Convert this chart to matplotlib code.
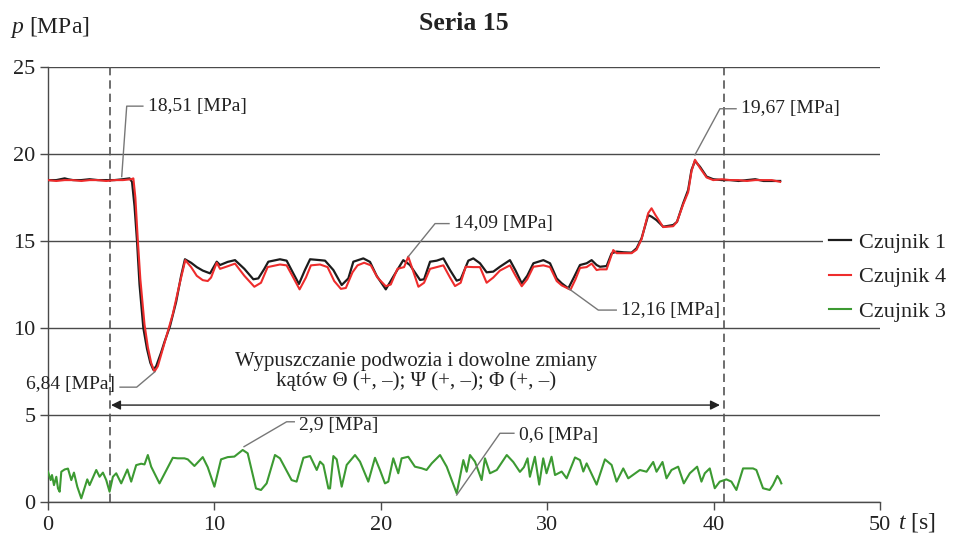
import matplotlib
matplotlib.use("Agg")
import matplotlib.pyplot as plt

plt.rcParams['font.family'] = ['Liberation Serif', 'DejaVu Serif']
plt.rcParams['mathtext.fontset'] = 'custom'
plt.rcParams['mathtext.rm'] = 'Liberation Serif'
plt.rcParams['mathtext.it'] = 'Liberation Serif:italic'

# ---------------- data ----------------
t_c1 = [0.0, 0.5, 1.0, 1.2, 1.5, 2.0, 2.5, 3.0, 3.5, 4.0, 4.5, 4.9, 5.05, 5.2, 5.35, 5.5,
        5.73, 5.95, 6.15, 6.33, 6.5, 6.8, 7.0, 7.33, 7.7, 8.0, 8.23, 8.6, 8.94, 9.3, 9.74,
        10.14, 10.34, 10.8, 11.24, 11.8, 12.34, 12.64, 13.0, 13.24, 13.94, 14.34, 14.74,
        15.08, 15.44, 15.75, 16.35, 16.65, 17.15, 17.65, 18.05, 18.35, 18.95, 19.35, 19.75,
        20.3, 20.75, 21.35, 21.75, 22.36, 22.6, 22.96, 23.36, 23.76, 24.16, 24.56, 24.8,
        25.26, 25.56, 25.96, 26.36, 26.76, 27.16, 27.76, 28.1, 28.47, 28.8, 29.17, 29.77,
        30.17, 30.57, 30.87, 31.27, 31.6, 31.97, 32.37, 32.67, 32.97, 33.17, 33.57, 33.87,
        34.17, 34.6, 35.07, 35.37, 35.67, 36.07, 36.27, 36.57, 36.97, 37.57, 37.8, 38.17,
        38.47, 38.67, 38.88, 39.18, 39.58, 39.98, 40.5, 41.0, 41.5, 42.0, 42.5, 43.0, 43.5, 44.0]
p_c1 = [18.5, 18.5, 18.6, 18.55, 18.5, 18.5, 18.55, 18.5, 18.5, 18.5, 18.55, 18.6, 18.4, 17.0, 15.0, 12.5,
        10.0, 8.8, 8.0, 7.6, 7.8, 8.6, 9.2, 10.1, 11.5, 13.0, 13.95, 13.75, 13.5, 13.3, 13.14,
        13.81, 13.62, 13.8, 13.9, 13.4, 12.8, 12.85, 13.4, 13.81, 13.95, 13.87, 13.14,
        12.53, 13.33, 13.95, 13.9, 13.87, 13.33, 12.47, 12.85, 13.81, 14.0, 13.8, 13.0,
        12.22, 12.95, 13.9, 13.62, 12.76, 12.8, 13.81, 13.87, 14.0, 13.33, 12.72, 12.8,
        13.87, 14.0, 13.72, 13.2, 13.24, 13.52, 13.9, 13.3, 12.57, 13.0, 13.72, 13.9,
        13.72, 12.85, 12.57, 12.28, 12.9, 13.62, 13.72, 13.9, 13.62, 13.52, 13.56, 14.29,
        14.39, 14.35, 14.33, 14.58, 15.15, 16.49, 16.4, 16.2, 15.82, 15.92, 16.1, 17.17,
        17.93, 19.08, 19.6, 19.27, 18.7, 18.55, 18.5, 18.5, 18.45, 18.5, 18.55, 18.45, 18.45, 18.45]

t_c4 = [0.0, 0.5, 1.0, 1.5, 2.0, 2.5, 3.0, 3.5, 4.0, 4.5, 5.0, 5.13, 5.25, 5.4, 5.55, 5.8,
        6.0, 6.2, 6.4, 6.6, 6.9, 7.2, 7.5, 7.9, 8.25, 8.6, 8.94, 9.3, 9.6, 9.8, 10.14, 10.34,
        10.8, 11.24, 11.8, 12.4, 12.8, 13.2, 13.94, 14.34, 14.74, 15.12, 15.5, 15.8, 16.35,
        16.8, 17.2, 17.6, 17.9, 18.3, 18.6, 19.0, 19.4, 19.8, 20.3, 20.6, 21.0, 21.4, 21.65,
        21.9, 22.26, 22.6, 22.96, 23.36, 23.76, 24.16, 24.46, 24.8, 25.1, 25.56, 25.96,
        26.36, 26.76, 27.16, 27.76, 28.1, 28.47, 28.8, 29.17, 29.77, 30.17, 30.57, 30.87,
        31.4, 31.7, 31.97, 32.37, 32.67, 32.97, 33.17, 33.57, 33.97, 34.17, 34.6, 35.07,
        35.37, 35.67, 36.07, 36.27, 36.5, 36.97, 37.57, 37.8, 38.17, 38.47, 38.67, 38.88,
        39.18, 39.58, 39.98, 40.5, 41.0, 41.5, 42.0, 42.5, 43.0, 43.5, 44.0]
p_c4 = [18.5, 18.45, 18.5, 18.5, 18.45, 18.5, 18.5, 18.45, 18.5, 18.5, 18.55, 18.6, 17.5, 15.0, 12.8, 10.2,
        8.9, 8.0, 7.5, 7.8, 8.8, 9.8, 10.8, 12.5, 13.9, 13.5, 13.0, 12.75, 12.7, 12.9, 13.75, 13.4,
        13.55, 13.7, 13.0, 12.37, 12.6, 13.5, 13.65, 13.6, 12.9, 12.22, 12.9, 13.6, 13.65,
        13.5, 12.7, 12.25, 12.3, 13.2, 13.6, 13.75, 13.6, 12.9, 12.4, 12.5, 13.4, 13.5, 14.1,
        13.4, 12.37, 12.6, 13.4, 13.5, 13.6, 12.9, 12.41, 12.6, 13.52, 13.5, 13.5,
        12.6, 12.9, 13.3, 13.6, 13.0, 12.4, 12.8, 13.52, 13.6, 13.5, 12.7, 12.45,
        12.2, 12.8, 13.45, 13.5, 13.7, 13.33, 13.37, 13.37, 14.48, 14.3, 14.3, 14.3,
        14.5, 15.1, 16.6, 16.88, 16.5, 15.8, 15.85, 16.1, 17.1, 17.8, 19.0, 19.67,
        19.2, 18.65, 18.5, 18.55, 18.5, 18.5, 18.45, 18.5, 18.5, 18.5, 18.4]

t_c3 = [0.0, 0.16, 0.24, 0.36, 0.5, 0.6, 0.7, 0.8, 1.0, 1.2, 1.4, 1.56, 1.76, 2.0, 2.16, 2.36,
        2.5, 2.9, 3.1, 3.3, 3.5, 3.7, 3.9, 4.1, 4.4, 4.77, 5.0, 5.3, 5.6, 5.8, 6.0, 6.2, 6.7,
        7.5, 7.8, 8.2, 8.4, 8.8, 9.3, 9.6, 10.0, 10.4, 10.8, 11.2, 11.7, 12.0, 12.5, 12.8,
        13.14, 13.64, 13.94, 14.64, 14.94, 15.35, 15.75, 16.15, 16.35, 16.55, 16.85, 16.95,
        17.15, 17.35, 17.65, 17.95, 18.45, 18.75, 19.25, 19.65, 19.95, 20.25, 20.45, 20.75,
        21.05, 21.25, 21.65, 22.05, 22.45, 22.75, 23.06, 23.56, 23.96, 24.56, 24.96, 25.16,
        25.36, 25.66, 26.06, 26.26, 26.56, 26.97, 27.57, 27.96, 28.36, 28.6, 28.82, 28.96,
        29.26, 29.52, 29.76, 29.96, 30.26, 30.47, 30.87, 31.17, 31.67, 31.97, 32.17, 32.37,
        32.97, 33.47, 33.87, 34.17, 34.57, 34.87, 35.57, 35.97, 36.37, 36.57, 36.93, 37.17,
        37.47, 37.87, 38.21, 38.57, 39.01, 39.27, 39.47, 39.77, 40.07, 40.37, 40.77, 41.07,
        41.37, 41.77, 42.37, 42.57, 42.97, 43.37, 43.57, 43.83, 43.97, 44.07]
p_c3 = [1.74, 1.26, 1.55, 0.97, 1.45, 0.78, 0.59, 1.74, 1.87, 1.92, 1.26, 1.69, 0.88, 0.21, 0.69, 1.3,
        0.97, 1.84, 1.45, 1.69, 1.26, 0.59, 1.45, 1.65, 1.07, 1.87, 1.17, 2.12, 2.2, 2.16, 2.7, 2.03, 1.07,
        2.54, 2.51, 2.51, 2.45, 2.07, 2.58, 2.0, 0.88, 2.45, 2.58, 2.61, 2.99, 2.8, 0.78, 0.69,
        1.07, 2.7, 2.51, 1.26, 1.17, 2.54, 2.64, 1.84, 2.32, 2.13, 0.78, 0.78,
        2.64, 2.45, 0.88, 2.13, 2.7, 2.32, 1.17, 2.54, 1.84, 1.07, 1.17, 2.51,
        1.65, 2.51, 2.6, 2.03, 1.94, 1.84, 2.22, 2.7, 2.03, 0.5, 2.41, 1.74,
        2.7, 2.32, 1.26, 2.51, 1.65, 1.84, 2.7, 2.3, 1.73, 2.0, 2.51, 1.45,
        2.6, 1.0, 2.51, 1.65, 2.6, 1.55, 1.75, 1.36, 2.56, 2.41, 1.75, 2.22,
        1.0, 2.45, 2.13, 1.17, 1.93, 1.36, 1.84, 1.74, 2.3, 1.74, 2.3, 1.36,
        1.84, 2.03, 1.07, 1.65, 2.03, 1.17, 1.65, 1.93, 0.79, 1.17, 1.3, 1.17,
        0.69, 1.93, 1.93, 1.84, 0.79, 0.69, 0.98, 1.5, 1.3, 1.07]

series_labels = ['Czujnik 1', 'Czujnik 4', 'Czujnik 3']
x_ticks = [0, 10, 20, 30, 40, 50]
y_ticks = [0, 5, 10, 15, 20, 25]

# event markers (s) and the arrow level (MPa)
t_events = [3.73, 40.64]
arrow_t = [3.79, 40.38]
arrow_p = 5.57

# annotations: text, point (t, p), elbow (t, p), text anchor (t, p), alignment
annotations = [
    ('18,51 [MPa]', (4.43, 18.7), (4.73, 22.75), (6.0, 22.75), 'left'),
    ('6,84 [MPa]', (6.43, 7.49), (5.33, 6.6), (4.03, 6.75), 'right'),
    ('14,09 [MPa]', (21.65, 14.1), (23.26, 16.0), (24.4, 16.0), 'left'),
    ('12,16 [MPa]', (31.27, 12.28), (33.07, 11.03), (34.45, 11.03), 'left'),
    ('19,67 [MPa]', (38.88, 19.95), (40.38, 22.6), (41.65, 22.6), 'left'),
    ('2,9 [MPa]', (11.78, 3.18), (14.34, 4.61), (15.1, 4.42), 'left'),
    ('0,6 [MPa]', (24.56, 0.4), (27.16, 3.95), (28.3, 3.85), 'left'),
]

# ---------------- figure ----------------
W, H = 955, 540
fig = plt.figure(figsize=(W / 100, H / 100), dpi=100)
ax = fig.add_axes([48 / W, 38 / H, 832 / W, 435 / H])
ax.set_xlim(0, 50)
ax.set_ylim(0, 25)

grid_c = '#4a4a4a'
ax.set_yticks(y_ticks)
ax.set_xticks(x_ticks)
ax.yaxis.grid(True, color=grid_c, lw=1.0)
ax.set_axisbelow(True)
for s in ['top', 'right']:
    ax.spines[s].set_visible(False)
for s in ['left', 'bottom']:
    ax.spines[s].set_color(grid_c)
    ax.spines[s].set_linewidth(1.0)
ax.tick_params(axis='both', length=6, width=1.0, color=grid_c, labelsize=16, labelcolor='#222222')
ax.tick_params(axis='y', pad=3)
ax.tick_params(axis='x', pad=4)

# dashed event lines
for te in t_events:
    ax.axvline(te, color='#555555', lw=1.2, ls=(0, (5, 3)), zorder=1)

# arrow
ax.annotate('', xy=(arrow_t[0], arrow_p), xytext=(arrow_t[1], arrow_p),
            arrowprops=dict(arrowstyle='<|-|>', color='#222222', lw=1.0,
                            mutation_scale=14, shrinkA=0, shrinkB=0))
ax.text(22.1, 7.5, 'Wypuszczanie podwozia i dowolne zmiany\nkątów Θ (+, –); Ψ (+, –); Φ (+, –)',
        ha='center', va='center', fontsize=15, color='#222222', linespacing=1.0)

# series
l1, = ax.plot(t_c1, p_c1, color='#1c1c1c', lw=1.6, zorder=3)
l4, = ax.plot(t_c4, p_c4, color='#ee2c2c', lw=1.5, zorder=4)
l3, = ax.plot(t_c3, p_c3, color='#3c9a32', lw=1.5, zorder=3)

# annotations
for txt, pt, elb, tpos, ha in annotations:
    ax.plot([pt[0], elb[0], tpos[0] + (-0.3 if ha == 'left' else 0.3)],
            [pt[1], elb[1], elb[1]], color='#777777', lw=1.0, zorder=5)
    ax.text(tpos[0], tpos[1], txt, ha=ha, va='center', fontsize=14, color='#222222', zorder=6)

# legend
leg = fig.legend([l1, l4, l3], series_labels, loc='center left',
                 bbox_to_anchor=(823 / W, 1 - 277 / H), frameon=True, fancybox=False,
                 facecolor='white', edgecolor='none', framealpha=1.0, fontsize=16,
                 handlelength=1.0, handletextpad=0.35, borderpad=0.25, borderaxespad=0.0,
                 labelspacing=0.62)
for t in leg.get_texts():
    t.set_color('#222222')

# titles and axis labels
fig.text(464 / W, 1 - 23 / H, 'Seria 15', ha='center', va='center', fontsize=18.5,
         fontweight='bold', color='#222222')
fig.text(10 / W, 1 - 27 / H, r'$p$ [MPa]', ha='left', va='center', fontsize=17, color='#222222')
fig.text(898 / W, 1 - 522 / H, r'$t$ [s]', ha='left', va='center', fontsize=17, color='#222222')

fig.savefig('out.png', dpi=100)
